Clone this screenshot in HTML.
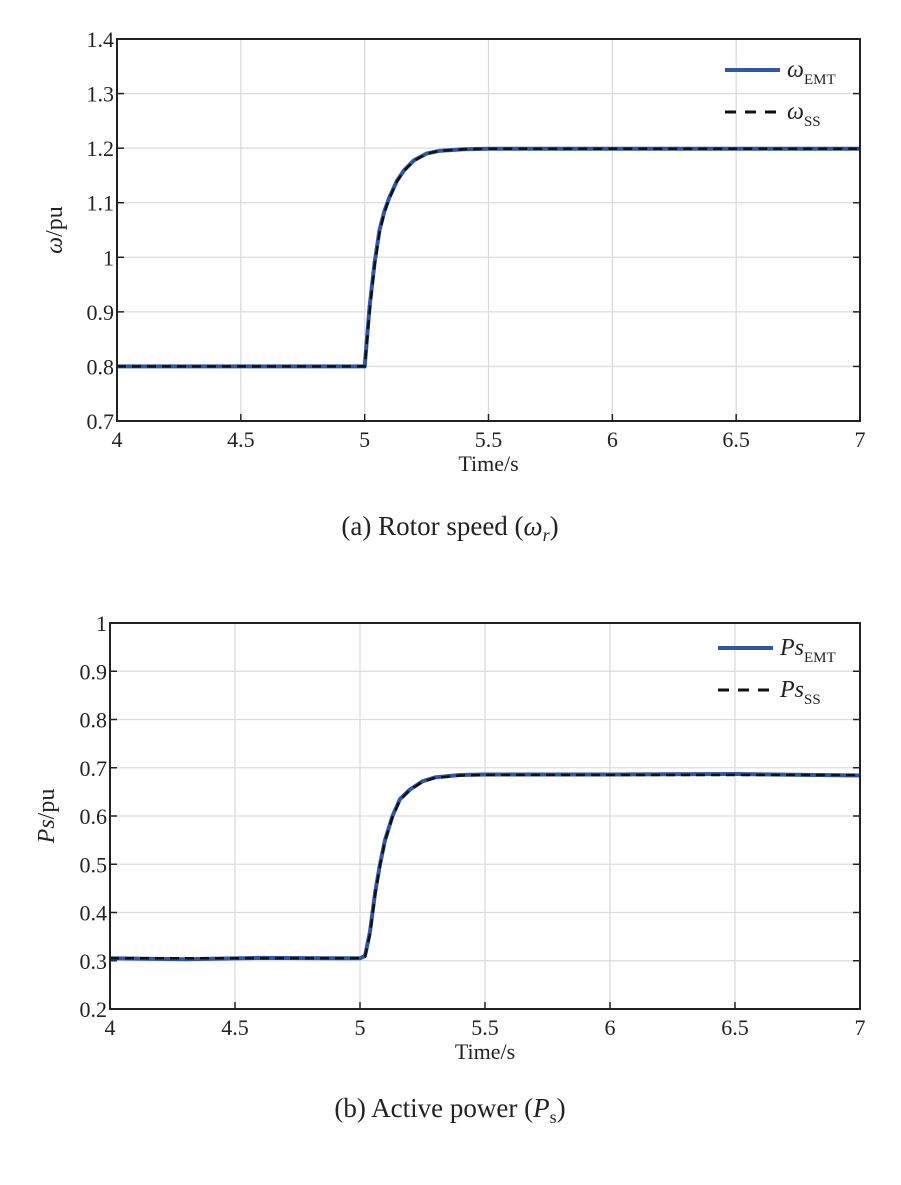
<!DOCTYPE html>
<html><head><meta charset="utf-8">
<style>
body{margin:0;background:#fff;}
svg text{font-family:"Liberation Serif",serif;fill:#222;}
</style></head>
<body>
<svg width="901" height="1180" viewBox="0 0 901 1180" xmlns="http://www.w3.org/2000/svg">
<g id="chartA"></g>
<g id="chartB"></g>
<text x="450" y="535" font-size="27" text-anchor="middle">(a) Rotor speed (<tspan font-style="italic">ω<tspan font-size="18" dy="6">r</tspan></tspan><tspan dy="-6">)</tspan></text>
<text x="450" y="1117" font-size="27" text-anchor="middle">(b) Active power (<tspan font-style="italic">P</tspan><tspan font-size="18" dy="6">s</tspan><tspan dy="-6">)</tspan></text>
</svg>
<script>
const xTicks=[4,4.5,5,5.5,6,6.5,7];
const xTickLabels=["4","4.5","5","5.5","6","6.5","7"];
const aYTicks=[0.7,0.8,0.9,1,1.1,1.2,1.3,1.4];
const aYTickLabels=["0.7","0.8","0.9","1","1.1","1.2","1.3","1.4"];
const aTime=[4,5,5.02,5.04,5.06,5.08,5.10,5.13,5.16,5.20,5.25,5.30,5.40,5.5,6,7];
const aEMT=[0.8,0.8,0.91,0.99,1.05,1.085,1.11,1.14,1.16,1.178,1.19,1.195,1.198,1.199,1.199,1.199];
const aSS=[0.8,0.8,0.90,0.985,1.045,1.083,1.108,1.139,1.159,1.177,1.19,1.195,1.198,1.199,1.199,1.199];
const bYTicks=[0.2,0.3,0.4,0.5,0.6,0.7,0.8,0.9,1];
const bYTickLabels=["0.2","0.3","0.4","0.5","0.6","0.7","0.8","0.9","1"];
const bTime=[4,4.3,4.6,4.9,5,5.02,5.04,5.06,5.08,5.10,5.13,5.16,5.20,5.25,5.30,5.40,5.5,6,6.5,7];
const bEMT=[0.305,0.303,0.306,0.305,0.305,0.31,0.36,0.44,0.50,0.55,0.60,0.635,0.655,0.672,0.68,0.685,0.686,0.686,0.687,0.684];
const bSS=[0.305,0.305,0.305,0.305,0.305,0.308,0.355,0.435,0.497,0.548,0.598,0.633,0.654,0.671,0.679,0.684,0.685,0.685,0.685,0.685];
const NS="http://www.w3.org/2000/svg";
function mk(p,tag,at){const e=document.createElementNS(NS,tag);for(const k in at)e.setAttribute(k,at[k]);p.appendChild(e);return e;}
function draw(g,o){
 const sx=v=>o.x0+(v-4)/3*(o.x1-o.x0);
 const sy=v=>o.y1-(v-o.ymin)/(o.ymax-o.ymin)*(o.y1-o.y0);
 xTicks.forEach((t,i)=>{
  const l=mk(g,'line',{x1:sx(t),x2:sx(t),y1:o.y0,y2:o.y1,stroke:'#dcdcdc','stroke-width':1.3});
  
  
  const tk=mk(g,'line',{x1:sx(t),x2:sx(t),y1:o.y1,y2:o.y1-7,stroke:'#222','stroke-width':1.5});
  
  
  const tx=mk(g,'text',{x:sx(t),y:o.y1+26,'font-size':22,'text-anchor':'middle'});tx.textContent=xTickLabels[i];
  
  
 });
 o.yt.forEach((t,i)=>{
  const l=mk(g,'line',{x1:o.x0,x2:o.x1,y1:sy(t),y2:sy(t),stroke:'#dcdcdc','stroke-width':1.3});
  
  
  const tk=mk(g,'line',{x1:o.x0,x2:o.x0+7,y1:sy(t),y2:sy(t),stroke:'#222','stroke-width':1.5});
  
  
  const tk2=mk(g,'line',{x1:o.x1,x2:o.x1-7,y1:sy(t),y2:sy(t),stroke:'#222','stroke-width':1.5});
  
  
  const tx=mk(g,'text',{x:o.x0-3,y:sy(t)+8,'font-size':22,'text-anchor':'end'});tx.textContent=o.yl[i];
  
  
 });
 const pts=(ts,vs)=>ts.map((t,i)=>sx(t).toFixed(1)+','+sy(vs[i]).toFixed(1)).join(' ');
 const e=mk(g,'polyline',{points:pts(o.t,o.e),fill:'none',stroke:'#2f57a6','stroke-width':4,'stroke-linejoin':'round'});
 
 
 const s=mk(g,'polyline',{points:pts(o.t,o.s),fill:'none',stroke:'#111','stroke-width':2.5,'stroke-dasharray':'9,6'});
 
 
 const b=mk(g,'rect',{x:o.x0,y:o.y0,width:o.x1-o.x0,height:o.y1-o.y0,fill:'none',stroke:'#222','stroke-width':2});
 
 
 const xl=mk(g,'text',{x:(o.x0+o.x1)/2,y:o.y1+50,'font-size':22,'text-anchor':'middle'});xl.textContent='Time/s';
 
 
 const yl=mk(g,'text',{x:0,y:0,'font-size':24,'text-anchor':'middle',transform:`translate(${o.ylx},${(o.y0+o.y1)/2}) rotate(-90)`});
 yl.innerHTML=o.ytitle;
 
 
 const l1=mk(g,'line',{x1:o.lx,x2:o.lx+55,y1:o.ly,y2:o.ly,stroke:'#2f57a6','stroke-width':4});
 
 
 const l2=mk(g,'line',{x1:o.lx,x2:o.lx+55,y1:o.ly+42,y2:o.ly+42,stroke:'#111','stroke-width':3,'stroke-dasharray':'11,9'});
 
 
 const t1=mk(g,'text',{x:o.lx+62,y:o.ly+7,'font-size':24});t1.innerHTML=o.sym+'<tspan font-size="15" dy="7">EMT</tspan>';
 
 
 const t2=mk(g,'text',{x:o.lx+62,y:o.ly+49,'font-size':24});t2.innerHTML=o.sym+'<tspan font-size="15" dy="7">SS</tspan>';
 
 
}
draw(document.getElementById('chartA'),{x0:117,x1:860,y0:39,y1:421,ymin:0.7,ymax:1.4,yt:aYTicks,yl:aYTickLabels,t:aTime,e:aEMT,s:aSS,ylx:62,ytitle:'<tspan font-style="italic">ω</tspan>/pu',lx:725,ly:70,sym:'<tspan font-style="italic">ω</tspan>'});
draw(document.getElementById('chartB'),{x0:110,x1:860,y0:623,y1:1009,ymin:0.2,ymax:1,yt:bYTicks,yl:bYTickLabels,t:bTime,e:bEMT,s:bSS,ylx:54,ytitle:'<tspan font-style="italic">Ps</tspan>/pu',lx:718,ly:648,sym:'<tspan font-style="italic">Ps</tspan>'});
</script>
</body></html>
